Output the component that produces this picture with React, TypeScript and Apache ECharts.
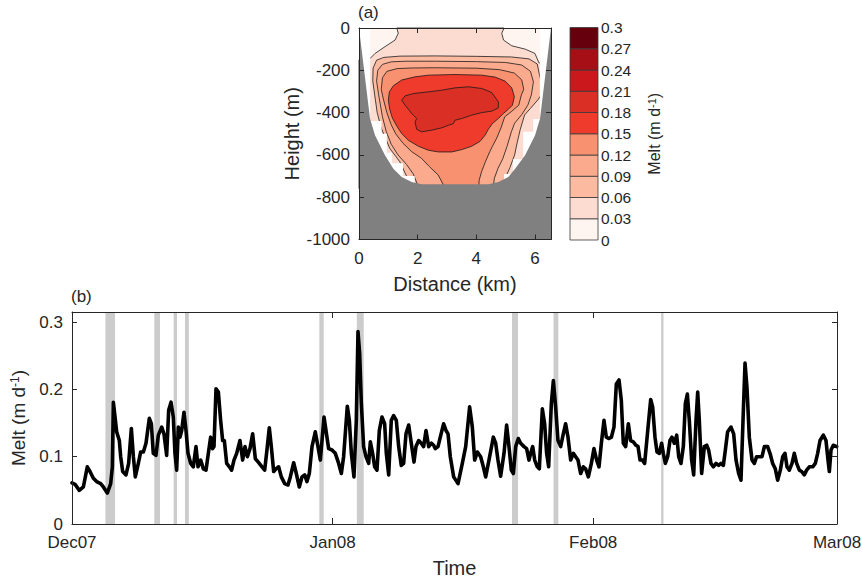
import React, { useEffect, useRef } from 'react';
import * as echarts from 'echarts';

const FONT = '"Liberation Sans", Arial, Helvetica, sans-serif';
const INK = '#262626';

// ---------- Panel (a): melt over the fjord cross-section ----------
const distanceMax = 6.55;
const heightMin = -1000;
const levelValues = [0, 0.03, 0.06, 0.09, 0.12, 0.15, 0.18, 0.21, 0.24, 0.27, 0.3];
const levelColors = ['#fff5f0', '#fcdcd0', '#fcbba1', '#fcaa8d', '#f8916f', '#ee3b2c', '#da2f24', '#cb181d', '#a50f15', '#67000d'];

// filled region (0..0.03 base) and contour regions, [km, m]
const fjordBase: number[][] = [[0, 0], [6.55, 0], [6.55, -760], [0, -760]];
const contour003: number[][] = [[1.29, 0], [4.95, 0], [4.87, -25], [4.93, -57], [5.21, -84], [5.67, -100], [6.0, -120], [6.14, -165], [6.55, -170], [6.55, -760], [0, -760], [0, -150], [0.38, -144], [0.55, -120], [0.89, -88], [1.23, -57], [1.34, -25]];
const contour006: number[][] = [[0.47, -250], [0.48, -190], [0.6, -152], [0.85, -139], [1.4, -133], [2.6, -132], [4.0, -134], [5.2, -137], [5.8, -146], [6.08, -170], [6.17, -230], [6.3, -300], [6.1, -340], [5.85, -380], [5.65, -411], [5.5, -480], [5.4, -540], [5.31, -600], [5.15, -660], [5.02, -700], [4.95, -760], [1.75, -760], [1.62, -700], [1.39, -632], [1.05, -569], [0.76, -474], [0.62, -400], [0.535, -316]];
const contour009: number[][] = [[0.6, -250], [0.64, -200], [0.8, -172], [1.1, -160], [1.6, -157], [2.6, -157], [4.0, -159], [5.0, -163], [5.55, -175], [5.85, -205], [5.95, -255], [5.88, -316], [5.76, -365], [5.55, -410], [5.31, -450], [5.2, -490], [5.05, -560], [4.9, -620], [4.74, -664], [4.62, -710], [4.57, -760], [2.05, -760], [1.85, -690], [1.62, -645], [1.33, -600], [1.1, -550], [0.93, -490], [0.8, -420], [0.67, -316]];
const contour012: number[][] = [[0.76, -290], [0.8, -235], [0.95, -205], [1.3, -192], [1.8, -189], [2.6, -188], [4.0, -190], [4.8, -197], [5.3, -213], [5.55, -245], [5.62, -290], [5.54, -316], [5.45, -365], [5.2, -395], [4.97, -420], [4.85, -470], [4.7, -520], [4.55, -560], [4.46, -585], [4.32, -630], [4.18, -680], [4.1, -720], [4.08, -760], [2.95, -760], [2.7, -695], [2.4, -655], [2.13, -616], [1.8, -585], [1.5, -545], [1.25, -500], [1.1, -458], [0.95, -400], [0.82, -330]];
const contour015: number[][] = [[1.001, -341], [1.035, -302], [1.172, -273], [1.456, -246], [1.911, -231], [2.366, -223], [3.276, -220], [4.187, -223], [4.642, -232], [4.983, -251], [5.21, -283], [5.301, -325], [5.233, -365], [5.097, -384], [4.926, -404], [4.755, -428], [4.551, -452], [4.414, -479], [4.3, -507], [4.13, -536], [3.845, -559], [3.504, -575], [3.163, -586], [2.708, -586], [2.366, -578], [2.025, -559], [1.684, -531], [1.456, -499], [1.286, -463], [1.138, -425], [1.047, -384]];
const contour018: number[][] = [[1.456, -341], [1.57, -321], [1.854, -310], [2.366, -302], [2.821, -294], [3.276, -283], [3.731, -278], [4.187, -286], [4.528, -305], [4.755, -349], [4.755, -378], [4.528, -393], [4.187, -400], [3.845, -412], [3.504, -428], [3.276, -436], [3.22, -452], [3.049, -460], [2.821, -472], [2.48, -483], [2.139, -491], [1.968, -479], [1.911, -444], [1.968, -428], [1.797, -404], [1.684, -384], [1.57, -365]];
const maskLeft: number[][] = [[0, 0], [0.38, 0], [0.38, -440], [0.77, -440], [0.77, -500], [0.95, -500], [0.95, -590], [1.12, -590], [1.12, -640], [1.5, -640], [1.5, -700], [1.9, -700], [1.9, -760], [0, -760]];
const maskRight: number[][] = [[6.55, 0], [6.17, 0], [6.17, -430], [5.94, -430], [5.94, -490], [5.6, -490], [5.6, -620], [5.25, -620], [5.25, -690], [4.95, -690], [4.95, -760], [6.55, -760]];
const bathymetry: number[][] = [[0, 0], [0.375, -428], [0.546, -507], [0.887, -602], [1.172, -665], [1.456, -705], [1.797, -728], [2.139, -739], [4.414, -739], [4.755, -728], [5.097, -705], [5.324, -665], [5.666, -602], [6.007, -507], [6.177, -428], [6.55, 0], [6.55, -1000], [0, -1000]];

// ---------- Panel (b): melt time series ----------
const monthTickDays = [0, 31, 62, 91];
const monthTickLabels = ['Dec07', 'Jan08', 'Feb08', 'Mar08'];
const eventStart = [3.98, 9.79, 12.09, 13.44, 29.42, 33.88, 52.34, 57.28, 70.08];
const eventEnd = [5.12, 10.47, 12.49, 13.9, 29.94, 34.7, 53.06, 57.85, 70.36];

const meltDays = [
  0.00, 0.36, 0.87, 1.35, 1.82, 2.14, 2.54, 2.93, 3.41, 3.73, 4.20, 4.60, 4.80, 4.92, 5.12, 5.31, 5.63, 5.79, 6.03, 6.42,
  6.74, 7.06, 7.30, 7.53, 7.89, 8.17, 8.49, 8.80, 9.20, 9.44, 9.67, 9.99, 10.27, 10.67, 10.94, 11.26, 11.50, 11.78, 12.05, 12.25,
  12.45, 12.65, 12.85, 13.05, 13.32, 13.56, 13.80, 14.12, 14.43, 14.75, 14.99, 15.31, 15.62, 15.94, 16.22, 16.49, 16.73, 16.89, 17.13, 17.41,
  17.68, 17.92, 18.12, 18.40, 18.72, 18.99, 19.27, 19.59, 19.98, 20.30, 20.58, 20.86, 21.17, 21.49, 21.81, 22.16,
  22.60, 22.92, 23.19, 23.47, 23.71, 23.99, 24.27, 24.58, 24.90, 25.30, 25.69, 25.97, 26.37, 26.68, 27.04, 27.36, 27.68, 27.95, 28.23, 28.55,
  28.94, 29.26, 29.54, 29.98, 30.33, 30.53, 30.93, 31.32, 31.72, 32.04, 32.31, 32.75, 32.99, 33.23, 33.54, 33.82, 34.02, 34.22, 34.42, 34.69,
  34.97, 35.29, 35.49, 35.76, 36.00, 36.28, 36.56, 36.87, 37.19, 37.39, 37.67, 37.98, 38.26, 38.58, 38.86, 39.17, 39.45, 39.73, 40.05, 40.36,
  40.68, 40.92, 41.24, 41.55, 41.83, 42.11, 42.43, 42.74, 43.02, 43.22, 43.54, 43.81, 44.21, 44.49, 44.73, 45.00, 45.40,
  45.92, 46.43, 46.83, 47.30, 47.62, 47.90, 48.22, 48.61, 48.93, 49.21, 49.60, 50.12, 50.40, 50.67, 50.99, 51.39, 51.70, 51.98, 52.26, 52.50,
  52.78, 53.09, 53.37, 53.77, 54.08, 54.36, 54.56, 54.80, 55.04, 55.35, 55.59, 55.95, 56.22, 56.46, 56.70, 57.02, 57.26, 57.53, 57.81, 58.13,
  58.41, 58.72, 59.00, 59.32, 59.64, 59.91, 60.19, 60.51, 60.82, 61.10, 61.42, 61.78, 62.09, 62.41, 62.69, 62.97, 63.28, 63.56, 63.88, 64.16,
  64.47, 64.75, 65.07, 65.34, 65.58, 65.86, 66.18, 66.45, 66.77, 67.09, 67.33, 67.57, 67.84, 68.12,
  68.60, 68.84, 69.07, 69.35, 69.59, 69.87, 70.14, 70.34, 70.58, 70.86, 71.13, 71.37, 71.65, 71.93, 72.17, 72.44, 72.72, 72.96, 73.20, 73.43,
  73.71, 73.95, 74.23, 74.43, 74.62, 74.90, 75.22, 75.50, 75.73, 76.01, 76.29, 76.61, 76.92, 77.20, 77.48, 77.72, 77.99, 78.39, 78.71, 78.99,
  79.30, 79.58, 79.82, 80.06, 80.29, 80.57, 80.89, 81.17, 81.44, 81.76, 82.08, 82.36, 82.75, 83.03, 83.35, 83.66, 83.94, 84.26, 84.54, 84.81,
  85.05, 85.33, 85.65, 85.92, 86.20, 86.52, 86.80, 87.11, 87.39, 87.71, 88.11, 88.42, 88.70, 88.98, 89.37, 89.69, 89.93, 90.09, 90.29, 90.56, 90.96
];
const meltValues = [
  0.061, 0.059, 0.050, 0.055, 0.085, 0.078, 0.068, 0.063, 0.060, 0.055, 0.046, 0.060, 0.085, 0.181, 0.159, 0.137, 0.124, 0.100, 0.078, 0.073,
  0.090, 0.142, 0.100, 0.070, 0.090, 0.107, 0.107, 0.120, 0.157, 0.149, 0.105, 0.102, 0.132, 0.144, 0.134, 0.102, 0.169, 0.181, 0.159, 0.105,
  0.080, 0.144, 0.129, 0.139, 0.166, 0.139, 0.105, 0.090, 0.085, 0.115, 0.085, 0.095, 0.082, 0.080, 0.105, 0.129, 0.112, 0.115, 0.201, 0.196,
  0.154, 0.124, 0.124, 0.090, 0.085, 0.080, 0.095, 0.105, 0.124, 0.095, 0.115, 0.100, 0.112, 0.134, 0.097, 0.092,
  0.085, 0.080, 0.110, 0.143, 0.115, 0.078, 0.082, 0.085, 0.070, 0.060, 0.058, 0.070, 0.091, 0.075, 0.055, 0.070, 0.073, 0.063, 0.075, 0.115,
  0.137, 0.115, 0.095, 0.159, 0.129, 0.112, 0.110, 0.105, 0.090, 0.075, 0.100, 0.175, 0.154, 0.105, 0.070, 0.154, 0.286, 0.253, 0.179, 0.115,
  0.100, 0.090, 0.122, 0.105, 0.085, 0.080, 0.139, 0.159, 0.149, 0.105, 0.073, 0.154, 0.161, 0.154, 0.115, 0.087, 0.090, 0.134, 0.147, 0.120,
  0.092, 0.115, 0.124, 0.120, 0.115, 0.139, 0.115, 0.120, 0.117, 0.112, 0.115, 0.129, 0.149, 0.139, 0.134, 0.100, 0.070,
  0.060, 0.090, 0.115, 0.174, 0.144, 0.095, 0.107, 0.100, 0.085, 0.070, 0.095, 0.129, 0.120, 0.095, 0.071, 0.105, 0.147, 0.115, 0.080, 0.075,
  0.115, 0.127, 0.120, 0.115, 0.112, 0.095, 0.105, 0.115, 0.095, 0.085, 0.082, 0.171, 0.149, 0.105, 0.085, 0.179, 0.213, 0.174, 0.124, 0.115,
  0.132, 0.149, 0.129, 0.095, 0.105, 0.100, 0.095, 0.075, 0.085, 0.082, 0.070, 0.090, 0.112, 0.095, 0.085, 0.120, 0.154, 0.129, 0.127, 0.129,
  0.144, 0.208, 0.214, 0.184, 0.120, 0.115, 0.149, 0.124, 0.122, 0.117, 0.115, 0.095, 0.095, 0.090,
  0.154, 0.185, 0.174, 0.129, 0.107, 0.105, 0.120, 0.105, 0.090, 0.100, 0.124, 0.129, 0.120, 0.132, 0.100, 0.090, 0.115, 0.179, 0.193, 0.154,
  0.095, 0.073, 0.154, 0.196, 0.154, 0.075, 0.115, 0.117, 0.110, 0.090, 0.085, 0.090, 0.087, 0.090, 0.087, 0.110, 0.137, 0.144, 0.134, 0.095,
  0.075, 0.065, 0.154, 0.239, 0.203, 0.129, 0.095, 0.090, 0.100, 0.100, 0.100, 0.115, 0.115, 0.105, 0.090, 0.082, 0.065, 0.080, 0.100, 0.105,
  0.085, 0.080, 0.090, 0.105, 0.090, 0.080, 0.078, 0.073, 0.080, 0.085, 0.085, 0.090, 0.105, 0.124, 0.132, 0.124, 0.095, 0.078, 0.110, 0.117, 0.115
];

type Poly = { pts: number[][]; fill: string; stroke?: string };
const EDGE = '#1a1a1a';
const sectionPolys: Poly[] = [
  { pts: fjordBase, fill: levelColors[0] },
  { pts: contour003, fill: levelColors[1], stroke: EDGE },
  { pts: contour006, fill: levelColors[2], stroke: EDGE },
  { pts: contour009, fill: levelColors[3], stroke: EDGE },
  { pts: contour012, fill: levelColors[4], stroke: EDGE },
  { pts: contour015, fill: levelColors[5], stroke: EDGE },
  { pts: contour018, fill: levelColors[6], stroke: EDGE },
  { pts: maskLeft, fill: '#ffffff' },
  { pts: maskRight, fill: '#ffffff' },
  { pts: bathymetry, fill: '#808080' },
];

const txt = (size: number) => ({ color: INK, fontFamily: FONT, fontSize: size });
const fmtNum = (v: number) => String(parseFloat(Number(v).toFixed(3)));

function boxAxis(gridIndex: number, extra: any) {
  return {
    gridIndex,
    type: 'value',
    z: 10,
    axisLine: { show: true, onZero: false, lineStyle: { color: INK, width: 1 } },
    axisTick: { show: true, inside: true, length: 5, lineStyle: { color: INK, width: 1 } },
    splitLine: { show: false },
    ...extra,
  };
}

const meltName = (size: number, sup: number, pad: number) => ({
  ...txt(size),
  rich: {
    n: { ...txt(size) },
    s: { ...txt(sup), verticalAlign: 'top', padding: [0, 0, pad, 0] },
  },
});

export default function App() {
  const ref = useRef<HTMLDivElement>(null);
  useEffect(() => {
    const chart = echarts.init(ref.current!, undefined, { renderer: 'svg' });
    const option: any = {
      animation: false,
      backgroundColor: '#ffffff',
      textStyle: { fontFamily: FONT },
      grid: [
        { left: 359, top: 28, width: 192, height: 211.5, outerBoundsMode: 'none' },
        { left: 570, top: 27.5, width: 28, height: 212.5, outerBoundsMode: 'none' },
        { left: 72, top: 312, width: 765, height: 212, outerBoundsMode: 'none' },
      ],
      xAxis: [
        boxAxis(0, {
          min: 0, max: distanceMax, interval: 2, position: 'bottom',
          axisLabel: { ...txt(17), margin: 10, showMaxLabel: false, formatter: fmtNum },
          name: 'Distance (km)', nameLocation: 'middle', nameGap: 34, nameTextStyle: txt(20),
        }),
        boxAxis(0, { min: 0, max: distanceMax, interval: 2, position: 'top', axisLabel: { show: false } }),
        { gridIndex: 1, type: 'value', min: 0, max: 1, show: false },
        boxAxis(2, {
          min: 0, max: 91, position: 'bottom',
          axisTick: { show: true, inside: true, length: 6, lineStyle: { color: INK }, customValues: [31, 62] },
          axisLabel: {
            ...txt(17), margin: 10, customValues: monthTickDays,
            formatter: (v: number) => monthTickLabels[monthTickDays.indexOf(Math.round(v))] ?? '',
          },
          name: 'Time', nameLocation: 'middle', nameGap: 34, nameTextStyle: txt(20),
        }),
        boxAxis(2, {
          min: 0, max: 91, position: 'top',
          axisTick: { show: true, inside: true, length: 6, lineStyle: { color: INK }, customValues: [31, 62] },
          axisLabel: { show: false },
        }),
      ],
      yAxis: [
        boxAxis(0, {
          min: heightMin, max: 0, interval: 200, position: 'left',
          axisLabel: { ...txt(17), margin: 9, formatter: fmtNum },
          name: 'Height (m)', nameLocation: 'middle', nameGap: 57, nameTextStyle: txt(20),
        }),
        boxAxis(0, { min: heightMin, max: 0, interval: 200, position: 'right', axisLabel: { show: false } }),
        {
          gridIndex: 1, type: 'value', min: 0, max: 0.3, interval: 0.03, position: 'right',
          axisLine: { show: false }, axisTick: { show: false }, splitLine: { show: false },
          axisLabel: { ...txt(15.5), margin: 3, formatter: fmtNum },
          name: '{n|Melt (m d}{s|-1}{n|)}', nameLocation: 'middle', nameRotate: 90, nameGap: 48,
          nameTextStyle: meltName(16, 11, 6),
        },
        boxAxis(2, {
          min: 0, max: 0.315, interval: 0.1, position: 'left',
          axisLabel: { ...txt(17), margin: 9, showMaxLabel: false, formatter: fmtNum },
          name: '{n|Melt (m d}{s|-1}{n|)}', nameLocation: 'middle', nameGap: 35,
          nameTextStyle: meltName(19, 12, 7),
        }),
        boxAxis(2, { min: 0, max: 0.315, interval: 0.1, position: 'right', axisLabel: { show: false } }),
      ],
      series: [
        {
          type: 'custom', coordinateSystem: 'cartesian2d', xAxisIndex: 0, yAxisIndex: 0, silent: true, z: 2,
          data: sectionPolys.map((_, i) => [i, 0]),
          renderItem: (params: any, api: any) => {
            const p = sectionPolys[params.dataIndex];
            return {
              type: 'polygon',
              shape: { points: p.pts.map((pt) => api.coord(pt)) },
              style: { fill: p.fill, stroke: p.stroke || 'none', lineWidth: p.stroke ? 0.8 : 0 },
            };
          },
        },
        {
          type: 'custom', coordinateSystem: 'cartesian2d', xAxisIndex: 2, yAxisIndex: 2, silent: true, z: 2,
          data: levelColors.map((_, i) => [0.5, (levelValues[i] + levelValues[i + 1]) / 2]),
          renderItem: (params: any, api: any) => {
            const i = params.dataIndex;
            const a = api.coord([0, levelValues[i]]);
            const b = api.coord([1, levelValues[i + 1]]);
            return {
              type: 'rect',
              shape: { x: a[0], y: b[1], width: b[0] - a[0], height: a[1] - b[1] },
              style: { fill: levelColors[i], stroke: '#3a3a3a', lineWidth: 0.8 },
            };
          },
        },
        {
          type: 'line', xAxisIndex: 3, yAxisIndex: 3, z: 3,
          data: meltDays.map((d, i) => [d, meltValues[i]]),
          showSymbol: false, symbol: 'none', silent: true,
          lineStyle: { color: '#000000', width: 3.6, join: 'round', cap: 'round' },
          markArea: {
            silent: true,
            itemStyle: { color: '#cccccc', opacity: 1 },
            data: eventStart.map((s, i) => [{ xAxis: s }, { xAxis: eventEnd[i] }]),
          },
        },
      ],
      graphic: [
        { type: 'text', left: 358, top: 4, style: { text: '(a)', fill: INK, fontSize: 17, fontFamily: FONT } },
        { type: 'text', left: 71, top: 288, style: { text: '(b)', fill: INK, fontSize: 17, fontFamily: FONT } },
      ],
    };
    chart.setOption(option);
    return () => chart.dispose();
  }, []);
  return (
    <div
      ref={ref}
      style={{ position: 'fixed', left: 0, top: 0, width: 862, height: 579, background: '#ffffff' }}
    />
  );
}
